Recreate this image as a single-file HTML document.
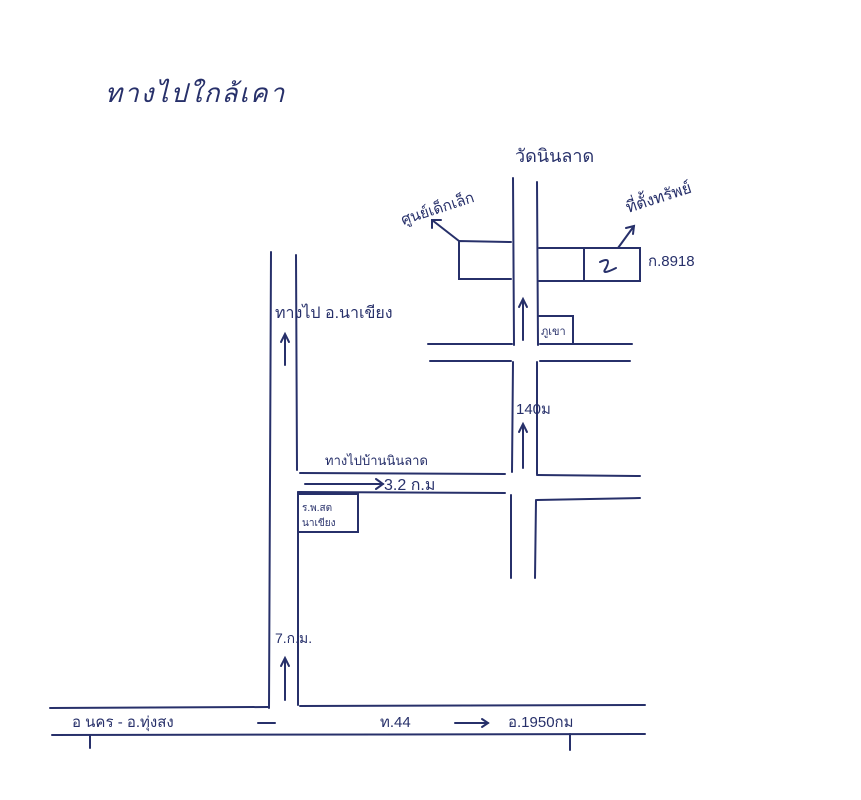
<!DOCTYPE html>
<html><head><meta charset="utf-8"><style>
html,body{margin:0;padding:0;background:#fff;}
svg{display:block}
text{font-family:"Liberation Sans","Noto Sans CJK SC",sans-serif;fill:#27306a;}
</style></head><body>
<svg width="861" height="800" viewBox="0 0 861 800" xmlns="http://www.w3.org/2000/svg">
<rect width="861" height="800" fill="#fff"/>
<g stroke="#27306a" stroke-width="2" fill="none" stroke-linecap="round">
<line x1="271" y1="252" x2="269" y2="708"/>
<line x1="296" y1="255" x2="297" y2="470"/>
<line x1="298" y1="492" x2="298" y2="705"/>
<line x1="300" y1="473" x2="505" y2="474"/>
<line x1="298" y1="492" x2="505" y2="493"/>
<line x1="537" y1="475" x2="640" y2="476"/>
<line x1="537" y1="500" x2="640" y2="498"/>
<line x1="513" y1="178" x2="514" y2="345"/>
<line x1="513" y1="362" x2="512" y2="472"/>
<line x1="511" y1="495" x2="511" y2="578"/>
<line x1="537" y1="182" x2="538" y2="345"/>
<line x1="537" y1="362" x2="537" y2="474"/>
<line x1="536" y1="500" x2="535" y2="578"/>
<line x1="428" y1="344" x2="512" y2="344"/>
<line x1="540" y1="344" x2="632" y2="344"/>
<line x1="430" y1="361" x2="511" y2="361"/>
<line x1="540" y1="361" x2="630" y2="361"/>
<polyline points="511,242 459,241 459,279 511,279"/>
<polyline points="539,248 640,248 640,281 539,281"/>
<line x1="584" y1="248" x2="584" y2="281"/>
<path d="M600 262 Q612 256 606 268 Q600 276 616 268"/>
<line x1="459" y1="241" x2="432" y2="220"/>
<polyline points="432,228 432,220 441,220"/>
<line x1="618" y1="248" x2="634" y2="226"/>
<polyline points="626,228 634,226 633,234"/>
<polyline points="539,316 573,316 573,344"/>
<rect x="298" y="494" width="60" height="38"/>
<line x1="50" y1="708" x2="268" y2="707"/>
<line x1="300" y1="706" x2="645" y2="705"/>
<line x1="52" y1="735" x2="645" y2="734"/>
<line x1="90" y1="735" x2="90" y2="748"/>
<line x1="570" y1="734" x2="570" y2="750"/>
<line x1="285" y1="700" x2="285" y2="660"/><polyline points="281,666 285,658 289,666"/>
<line x1="285" y1="365" x2="285" y2="336"/><polyline points="281,342 285,334 289,342"/>
<line x1="523" y1="340" x2="523" y2="300"/><polyline points="519,307 523,299 527,307"/>
<line x1="523" y1="468" x2="523" y2="425"/><polyline points="519,432 523,424 527,432"/>
<line x1="305" y1="484" x2="383" y2="484"/><polyline points="376,479 383,484 376,489"/>
<line x1="258" y1="723" x2="275" y2="723"/>
<line x1="455" y1="723" x2="488" y2="723"/><polyline points="482,719 488,723 482,727"/>
</g>
<text x="105" y="102" font-size="26" font-style="italic" letter-spacing="2">ทางไปใกล้เคา</text>
<text x="515" y="162" font-size="18">วัดนินลาด</text>
<text x="403" y="225" font-size="15" transform="rotate(-18 403 225)">ศูนย์เด็กเล็ก</text>
<text x="628" y="213" font-size="16" transform="rotate(-18 628 213)">ที่ตั้งทรัพย์</text>
<text x="648" y="266" font-size="15">ก.8918</text>
<text x="541" y="335" font-size="11">ภูเขา</text>
<text x="275" y="318" font-size="16">ทางไป อ.นาเขียง</text>
<text x="516" y="414" font-size="15">140ม</text>
<text x="325" y="465" font-size="13">ทางไปบ้านนินลาด</text>
<text x="384" y="490" font-size="16">3.2 ก.ม</text>
<text x="302" y="511" font-size="10">ร.พ.สต</text>
<text x="302" y="526" font-size="10">นาเขียง</text>
<text x="275" y="643" font-size="14">7.ก.ม.</text>
<text x="72" y="727" font-size="15">อ นคร - อ.ทุ่งสง</text>
<text x="380" y="727" font-size="15">ท.44</text>
<text x="508" y="727" font-size="15">อ.1950กม</text>
</svg>
</body></html>
